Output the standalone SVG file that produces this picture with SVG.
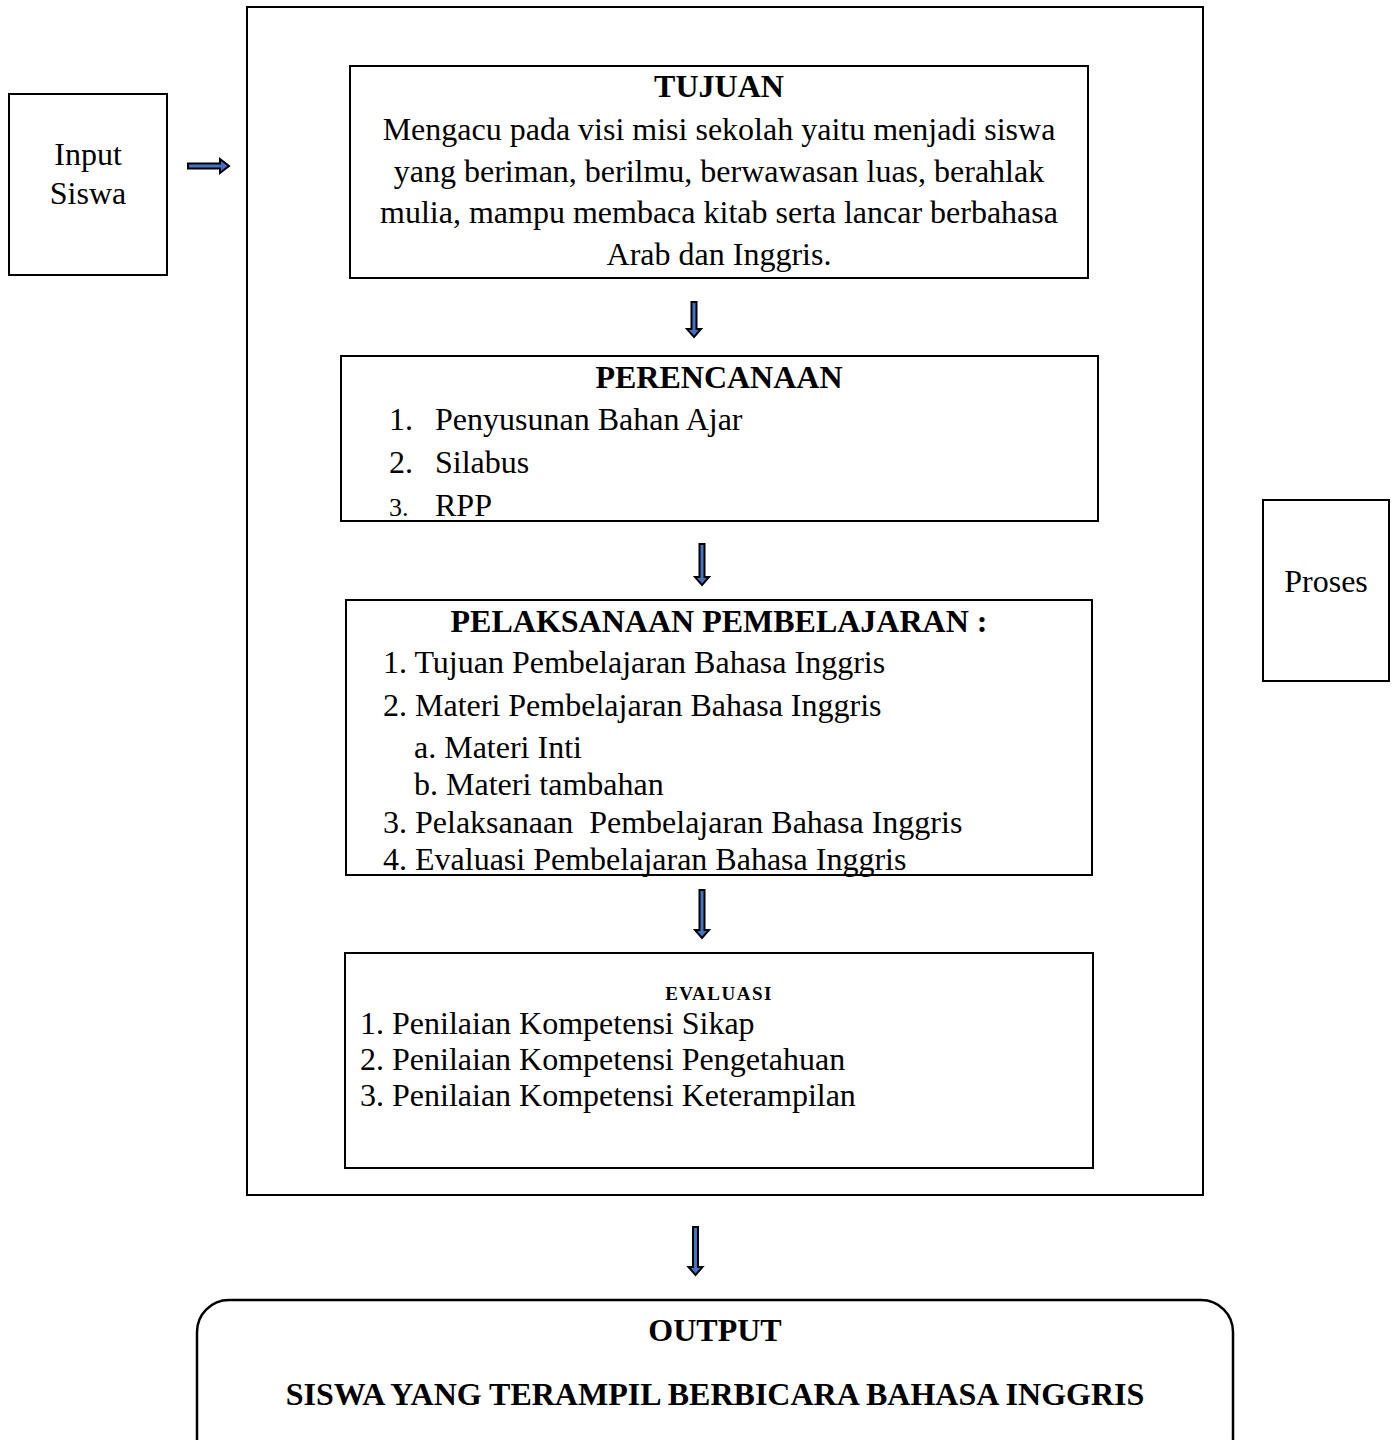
<svg xmlns="http://www.w3.org/2000/svg" width="1397" height="1440" viewBox="0 0 1397 1440">
<style>
.box{fill:#fff;stroke:#000;stroke-width:2}
.t{font-family:"Liberation Serif","Times New Roman",serif;font-size:32px;fill:#000}
.b{font-weight:bold}
.c{text-anchor:middle}
.arr{fill:#4472C4;stroke:#000;stroke-width:2;stroke-linejoin:miter}
</style>
<rect width="1397" height="1440" fill="#fff"/>
<g id="proses-frame"><rect class="box" x="247" y="7" width="956" height="1188"/></g>
<g id="input"><rect class="box" x="9" y="94" width="158" height="181"/>
<text class="t c" x="88" y="165">Input</text><text class="t c" x="88" y="204">Siswa</text></g>
<g id="proses"><rect class="box" x="1263" y="500" width="126" height="181"/>
<text class="t c" x="1326" y="592">Proses</text></g>
<g id="tujuan"><rect class="box" x="350" y="66" width="738" height="212"/>
<text class="t b c" x="719" y="97">TUJUAN</text>
<text class="t c" x="719" y="140">Mengacu pada visi misi sekolah yaitu menjadi siswa</text>
<text class="t c" x="719" y="182">yang beriman, berilmu, berwawasan luas, berahlak</text>
<text class="t c" x="719" y="223">mulia, mampu membaca kitab serta lancar berbahasa</text>
<text class="t c" x="719" y="265">Arab dan Inggris.</text></g>
<g id="perencanaan"><rect class="box" x="341" y="356" width="757" height="165"/>
<text class="t b c" x="719" y="388">PERENCANAAN</text>
<text class="t" x="389" y="430">1.</text><text class="t" x="435" y="430">Penyusunan Bahan Ajar</text>
<text class="t" x="389" y="473">2.</text><text class="t" x="435" y="473">Silabus</text>
<text class="t" x="389" y="516" style="font-size:26px">3.</text><text class="t" x="435" y="516">RPP</text></g>
<g id="pelaksanaan"><rect class="box" x="346" y="600" width="746" height="275"/>
<text class="t b c" x="719" y="632">PELAKSANAAN PEMBELAJARAN :</text>
<text class="t" x="383" y="673">1. Tujuan Pembelajaran Bahasa Inggris</text>
<text class="t" x="383" y="716">2. Materi Pembelajaran Bahasa Inggris</text>
<text class="t" x="414" y="758">a. Materi Inti</text>
<text class="t" x="414" y="795">b. Materi tambahan</text>
<text class="t" x="383" y="833" style="white-space:pre">3. Pelaksanaan  Pembelajaran Bahasa Inggris</text>
<text class="t" x="383" y="870">4. Evaluasi Pembelajaran Bahasa Inggris</text></g>
<g id="evaluasi"><rect class="box" x="345" y="953" width="748" height="215"/>
<text class="t b c" x="719" y="1000" style="font-size:19px;letter-spacing:1.5px">EVALUASI</text>
<text class="t" x="360" y="1034">1. Penilaian Kompetensi Sikap</text>
<text class="t" x="360" y="1070">2. Penilaian Kompetensi Pengetahuan</text>
<text class="t" x="360" y="1106">3. Penilaian Kompetensi Keterampilan</text></g>
<g id="output"><rect class="box" x="197" y="1300" width="1036" height="170" rx="32" ry="32" style="stroke-width:2.5"/>
<text class="t b c" x="715" y="1341">OUTPUT</text>
<text class="t b c" x="715" y="1405">SISWA YANG TERAMPIL BERBICARA BAHASA INGGRIS</text></g>
<g id="connectors">
<polygon class="arr" points="188,163.5 220,163.5 220,159 229,166 220,173 220,168.5 188,168.5"/>
<polygon class="arr" points="691.5,302 696.5,302 696.5,329 701,329 694,337 687,329 691.5,329"/>
<polygon class="arr" points="699.5,544 704.5,544 704.5,577 709,577 702,585 695,577 699.5,577"/>
<polygon class="arr" points="699.5,890 704.5,890 704.5,930 709,930 702,938 695,930 699.5,930"/>
<polygon class="arr" points="693,1227 698,1227 698,1267 702.5,1267 695.5,1275 688.5,1267 693,1267"/>
</g>
</svg>
